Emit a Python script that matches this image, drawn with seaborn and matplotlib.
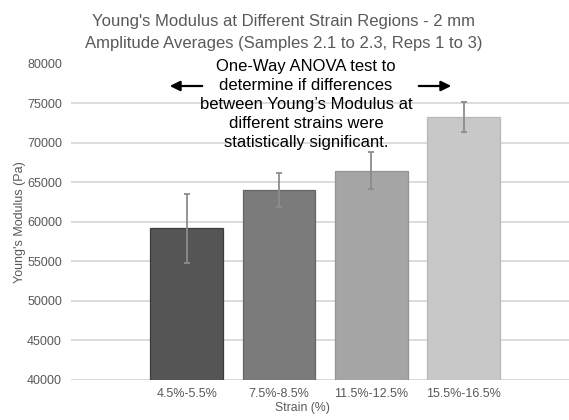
import matplotlib
matplotlib.use("Agg")
import matplotlib.pyplot as plt
import seaborn as sns
import pandas as pd

# Strain regions and averaged Young's modulus (Pa) with error half-widths
strain_regions = ["4.5%-5.5%", "7.5%-8.5%", "11.5%-12.5%", "15.5%-16.5%"]
modulus_mean = [59150, 64000, 66450, 73230]
modulus_err = [4400, 2100, 2340, 1860]
y_ticks = [40000, 45000, 50000, 55000, 60000, 65000, 70000, 75000, 80000]

bar_colors = ["#555555", "#7b7b7b", "#a5a5a5", "#c8c8c8"]
edge_colors = ["#3c3c3c", "#666666", "#939393", "#b8b8b8"]
text_grey = "#595959"

sns.set_theme(style="white")
plt.rcParams["font.family"] = ["Liberation Sans", "DejaVu Sans"]

df = pd.DataFrame({"Strain": strain_regions, "Modulus": modulus_mean})

fig = plt.figure(figsize=(5.69, 4.2), dpi=100)
ax = fig.add_axes([71 / 569, 40 / 420, 498 / 569, 316.5 / 420])

sns.barplot(data=df, x="Strain", y="Modulus", hue="Strain",
            palette=bar_colors, width=0.79, errorbar=None, legend=False,
            ax=ax, zorder=3)
for patch, ec in zip(ax.patches, edge_colors):
    patch.set_edgecolor(ec)
    patch.set_linewidth(0.9)

ax.errorbar(range(len(strain_regions)), modulus_mean, yerr=modulus_err,
            fmt="none", ecolor="#8c8c8c", elinewidth=1.3, capsize=2.4,
            capthick=1.3, zorder=4)

ax.set_ylim(40000, 80000)
ax.set_xlim(-1.254, 4.142)
ax.set_yticks(y_ticks)
ax.set_yticklabels([str(t) for t in y_ticks])
ax.yaxis.grid(True, color="#d9d9d9", linewidth=1.3, zorder=0)
ax.set_axisbelow(True)
for side in ["top", "right", "left", "bottom"]:
    ax.spines[side].set_visible(False)
ax.axhline(40000, color="#d9d9d9", linewidth=1.3, zorder=1)

ax.tick_params(axis="y", length=0, pad=6.5, labelsize=9, labelcolor=text_grey)
ax.tick_params(axis="x", length=0, pad=6, labelsize=9, labelcolor=text_grey)
ax.set_xlabel("")
ax.set_ylabel("")

fig.text(20 / 569, 1 - 222 / 420, "Young's Modulus (Pa)", rotation=90,
         ha="center", va="center", fontsize=9, color=text_grey)
fig.text(302 / 569, 1 - 408 / 420, "Strain (%)", ha="center", va="center",
         fontsize=8.8, color=text_grey)

fig.text(284 / 569, 1 - 32.5 / 420,
         "Young's Modulus at Different Strain Regions - 2 mm\n"
         "Amplitude Averages (Samples 2.1 to 2.3, Reps 1 to 3)",
         ha="center", va="center", fontsize=12, color=text_grey,
         linespacing=1.55)

# ANOVA note with arrows pointing to both sides
fig.text(306 / 569, 1 - 104.5 / 420,
         "One-Way ANOVA test to\ndetermine if differences\n"
         "between Young\u2019s Modulus at\ndifferent strains were\n"
         "statistically significant.",
         ha="center", va="center", fontsize=12, color="black",
         linespacing=1.32)
fig.add_artist(matplotlib.patches.FancyArrowPatch(
    (205 / 569, 1 - 86 / 420), (167 / 569, 1 - 86 / 420),
    transform=fig.transFigure, arrowstyle="-|>,head_length=6,head_width=3",
    mutation_scale=1, color="black", linewidth=1.6))
fig.add_artist(matplotlib.patches.FancyArrowPatch(
    (416 / 569, 1 - 86 / 420), (454 / 569, 1 - 86 / 420),
    transform=fig.transFigure, arrowstyle="-|>,head_length=6,head_width=3",
    mutation_scale=1, color="black", linewidth=1.6))

fig.savefig("out.png", dpi=100)
